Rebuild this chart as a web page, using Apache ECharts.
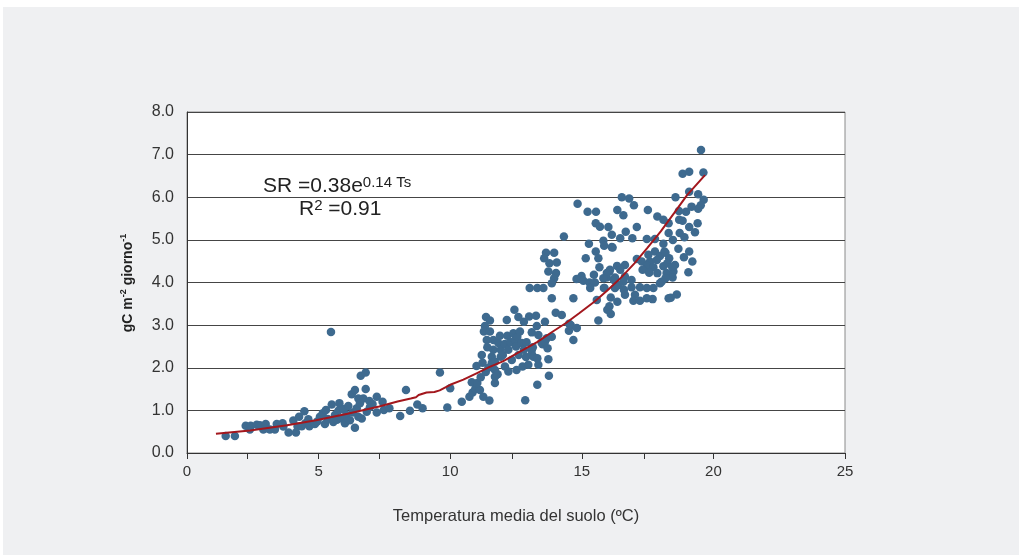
<!DOCTYPE html>
<html>
<head>
<meta charset="utf-8">
<script src="https://cdn.jsdelivr.net/npm/echarts@6/dist/echarts.min.js"></script>
<style>
html,body{margin:0;padding:0;background:#fff;}
#bg{position:absolute;left:3px;top:7px;width:1016px;height:548px;background:#eff0f2;}
#chart{position:absolute;left:0;top:0;width:1022px;height:555px;}
</style>
</head>
<body>
<div id="bg"></div>
<div id="chart"></div>
<script>
// Soil respiration vs mean soil temperature
const lowPoints = [
  [1.47,0.40],[1.82,0.40],[2.23,0.64],[2.39,0.55],[2.42,0.64],[2.65,0.66],[2.77,0.65],[2.90,0.55],
  [2.99,0.68],[3.00,0.58],[3.15,0.55],[3.34,0.55],[3.41,0.68],[3.63,0.70],[3.66,0.62],[3.86,0.48],
  [4.14,0.48],[4.04,0.76],[4.20,0.62],[4.26,0.85],[4.46,0.98],[4.36,0.63],[4.50,0.70],[4.61,0.79],
  [4.65,0.63],[4.86,0.68],[4.95,0.74],[5.05,0.85],[5.16,0.93],[5.28,1.01],[5.24,0.68],[5.35,0.80],
  [5.50,1.14],[5.47,2.84],[5.56,0.73],[5.62,0.89],[5.70,0.78],[5.79,1.17],[5.75,0.99],[5.88,0.81],
  [5.95,1.03],[6.00,0.70],[6.05,0.90],[6.13,1.10],[6.26,1.38],[6.30,0.95],[6.38,1.48],[6.38,0.59],
  [6.19,0.77],[6.45,1.05],[6.51,1.28],[6.57,1.17],[6.60,1.81],[6.79,1.89],[6.70,1.28],[6.79,1.50],
  [6.51,0.85],[6.64,0.81],[6.83,0.97],[6.93,1.22],[6.95,1.08],[7.05,1.15],[7.21,1.32],[7.21,0.95],
  [7.43,1.20],[7.48,1.01],[7.69,1.05],[8.10,0.87],[8.32,1.48],[8.47,0.99],[8.75,1.14],[8.95,1.05],
  [9.61,1.89],[10.00,1.52],[9.89,1.07]
];
const midPoints = [
  [10.44,1.20],[10.73,1.32],[10.85,1.42],[10.82,1.66],[10.95,1.50],[11.13,1.48],[11.00,2.04],[11.23,2.12],
  [11.03,1.64],[11.16,1.78],[11.20,2.30],[11.26,1.32],[11.35,1.90],[11.45,2.00],[11.49,1.23],[11.36,3.19],
  [11.51,3.11],[11.32,2.98],[11.28,2.85],[11.51,2.85],[11.39,2.65],[11.41,2.48],[11.64,2.65],[11.64,2.42],
  [11.58,2.26],[11.58,2.11],[11.70,2.14],[11.70,1.95],[11.70,1.79],[11.70,1.64],[11.80,1.85],[11.83,2.58],
  [11.89,2.75],[11.92,2.42],[11.92,2.26],[12.00,2.30],[12.15,3.12],[12.08,2.56],[12.08,2.03],[12.17,2.75],
  [12.21,2.42],[12.21,1.91],[12.30,2.60],[12.34,2.18],[12.40,2.81],[12.44,3.36],[12.46,2.65],[12.50,2.50],
  [12.52,1.95],[12.55,2.73],[12.59,3.19],[12.60,2.30],[12.65,2.85],[12.72,2.58],[12.75,2.03],[12.80,3.08],
  [12.80,2.42],[12.88,2.25],[12.85,1.24],[12.90,2.60],[13.00,3.20],[12.97,2.07],[13.10,2.83],[13.10,2.42],
  [13.10,2.32],[13.14,2.48],[13.16,2.26],[13.26,3.22],[13.29,2.98],[13.31,2.22],[13.35,2.07],[13.35,2.77],
  [13.31,1.60],[13.47,2.59],[13.51,2.55],[13.60,2.61],[13.60,3.08],[13.67,2.69],[13.70,2.46],[13.73,2.20],
  [13.75,1.81],[13.86,2.73],[14.01,3.29],[14.24,3.24],[14.51,2.87],[14.52,3.03],[14.58,3.00],[14.81,2.93],
  [14.68,2.65]
];
const highPoints = [
  [13.02,3.87],[13.31,3.87],[13.54,3.87],[13.86,3.63],[14.68,3.63],[13.64,4.70],[13.95,4.70],[13.57,4.57],
  [13.77,4.45],[14.05,4.47],[13.73,4.26],[14.02,4.22],[13.95,4.10],[13.86,3.98],[14.32,5.08],[14.84,5.85],
  [15.22,5.66],[15.54,5.66],[15.53,5.39],[15.69,5.31],[16.01,5.30],[16.14,5.12],[15.82,4.98],[15.85,4.86],
  [15.27,4.91],[16.14,4.83],[15.53,4.73],[15.63,4.57],[15.15,4.57],[15.67,4.36],[16.05,4.26],[15.46,4.18],
  [14.99,4.15],[14.80,4.08],[15.06,4.04],[15.29,4.00],[15.50,4.00],[15.32,3.87],[15.95,4.12],[15.86,3.87],
  [16.22,4.06],[15.57,3.59],[16.10,3.65],[16.05,3.44],[15.97,3.36],[16.10,3.26],[15.63,3.11],[16.35,3.55],
  [16.52,6.00],[16.80,5.97],[16.98,5.81],[16.35,5.70],[16.58,5.58],[17.51,5.70],[17.87,5.55],[18.10,5.47],
  [17.09,5.30],[16.67,5.19],[16.46,5.04],[16.92,5.04],[17.47,5.02],[16.17,4.82],[17.78,5.02],[18.30,5.39],
  [18.14,4.73],[17.78,4.73],[17.53,4.65],[17.97,4.62],[17.09,4.55],[17.28,4.49],[17.59,4.49],[17.85,4.53],
  [17.47,4.39],[17.72,4.36],[18.10,4.38],[16.64,4.41],[16.34,4.39],[17.31,4.30],[17.56,4.23],[17.87,4.22],
  [18.22,4.22],[16.46,4.30],[16.07,4.30],[15.95,4.22],[16.26,4.12],[16.64,4.14],[16.89,4.06],[16.58,4.02],
  [15.82,4.10],[15.84,3.87],[16.26,3.87],[16.39,3.94],[16.60,3.83],[16.89,3.89],[17.21,3.89],[17.47,3.87],
  [17.72,3.87],[17.97,3.98],[16.64,3.71],[17.02,3.71],[16.96,3.57],[17.21,3.57],[17.47,3.63],[17.69,3.61],
  [18.30,3.63],
  [19.53,7.11],[18.83,6.55],[19.08,6.60],[19.62,6.58],[18.56,6.00],[19.08,6.13],[19.42,6.07],[19.63,5.94],
  [19.52,5.81],[19.42,5.73],[19.17,5.78],[18.96,5.66],[18.69,5.68],[18.70,5.47],[18.83,5.45],[19.40,5.39],
  [19.08,5.30],[19.30,5.18],[18.72,5.16],[18.90,5.06],[18.46,5.00],[18.30,5.16],[18.10,4.91],[18.67,4.79],
  [19.08,4.73],[18.88,4.59],[19.20,4.49],[19.05,4.24],[18.54,4.41],[18.48,4.26],[18.45,4.12],[18.61,3.72],
  [18.38,3.64],[18.32,4.57],[18.18,4.70],[18.25,4.45],[18.43,4.37],[18.03,4.02],[18.18,4.10]
];
// fitted curve, as drawn in the picture
const trendTemp = [1.1,2.4,3.8,4.9,6.1,7.3,8.0,8.5,8.7,8.8,9.1,9.4,9.6,10.0,10.5,11.0,11.5,12.0,12.6,13.3,13.9,14.4,14.9,15.5,16.0,16.5,17.0,17.5,18.0,18.5,19.0,19.68];
const trendResp = [0.45,0.53,0.65,0.77,0.92,1.09,1.21,1.28,1.31,1.36,1.42,1.43,1.47,1.60,1.72,1.87,2.02,2.15,2.36,2.60,2.85,3.05,3.28,3.56,3.83,4.12,4.45,4.82,5.20,5.62,6.05,6.52];
const xTickValues = [0,2.28,5,7.3,10,12.35,15,17.36,20,25];

const FONT = '"Liberation Sans", Arial, Helvetica, sans-serif';
const chart = echarts.init(document.getElementById('chart'));
const scatterData = lowPoints.concat(midPoints, highPoints);
const trendData = trendTemp.map((t, i) => [t, trendResp[i]]);

const eqRich = {
  m: { fontFamily: FONT, fontSize: 21, fill: '#222', lineHeight: 24, verticalAlign: 'bottom' },
  s: { fontFamily: FONT, fontSize: 15, fill: '#222', lineHeight: 14, verticalAlign: 'top', padding: [2, 0, 0, 0] }
};

chart.setOption({
  backgroundColor: 'transparent',
  animation: false,
  grid: {
    left: 187, right: 177, top: 112, bottom: 102,
    show: true, backgroundColor: '#ffffff', borderColor: '#8a8a8a', borderWidth: 1
  },
  xAxis: {
    type: 'value', min: 0, max: 25, interval: 5,
    name: 'Temperatura media del suolo (ºC)',
    nameLocation: 'middle', nameGap: 55,
    nameTextStyle: { fontFamily: FONT, fontSize: 16.5, color: '#333' },
    axisLine: { show: true, lineStyle: { color: '#333', width: 1 } },
    axisTick: { show: true, length: 6, lineStyle: { color: '#333' }, customValues: xTickValues },
    axisLabel: { fontFamily: FONT, fontSize: 15, color: '#333', margin: 11 },
    splitLine: { show: false }
  },
  yAxis: {
    type: 'value', min: 0, max: 8, interval: 1,
    axisLine: { show: true, lineStyle: { color: '#333', width: 1 } },
    axisTick: { show: false },
    axisLabel: { fontFamily: FONT, fontSize: 16, color: '#333', margin: 13,
      formatter: v => v.toFixed(1) },
    splitLine: { show: true, lineStyle: { color: '#454545', width: 1 } }
  },
  graphic: [
    {
      type: 'text', x: 127, y: 283, rotation: Math.PI / 2, z: 10,
      style: {
        text: '{b|gC m}{s|-2}{b| giorno}{s|-1}',
        align: 'center', verticalAlign: 'middle',
        rich: {
          b: { fontFamily: FONT, fontSize: 14, fontWeight: 'bold', fill: '#222', lineHeight: 16, verticalAlign: 'bottom' },
          s: { fontFamily: FONT, fontSize: 9, fontWeight: 'bold', fill: '#222', lineHeight: 10, verticalAlign: 'top' }
        }
      }
    },
    {
      type: 'text', x: 263, y: 173, z: 10,
      style: { text: '{m|SR =0.38e}{s|0.14 Ts}', align: 'left', verticalAlign: 'top', rich: eqRich }
    },
    {
      type: 'text', x: 299, y: 196, z: 10,
      style: { text: '{m|R}{s|2}{m| =0.91}', align: 'left', verticalAlign: 'top', rich: eqRich }
    }
  ],
  series: [
    {
      type: 'scatter', data: scatterData, symbol: 'circle', symbolSize: 8.5,
      itemStyle: { color: '#3e6a8f', opacity: 1 }, z: 2
    },
    {
      type: 'line', data: trendData, symbol: 'none', smooth: false,
      lineStyle: { color: '#a3171d', width: 2 }, z: 3
    }
  ]
});
</script>
</body>
</html>
